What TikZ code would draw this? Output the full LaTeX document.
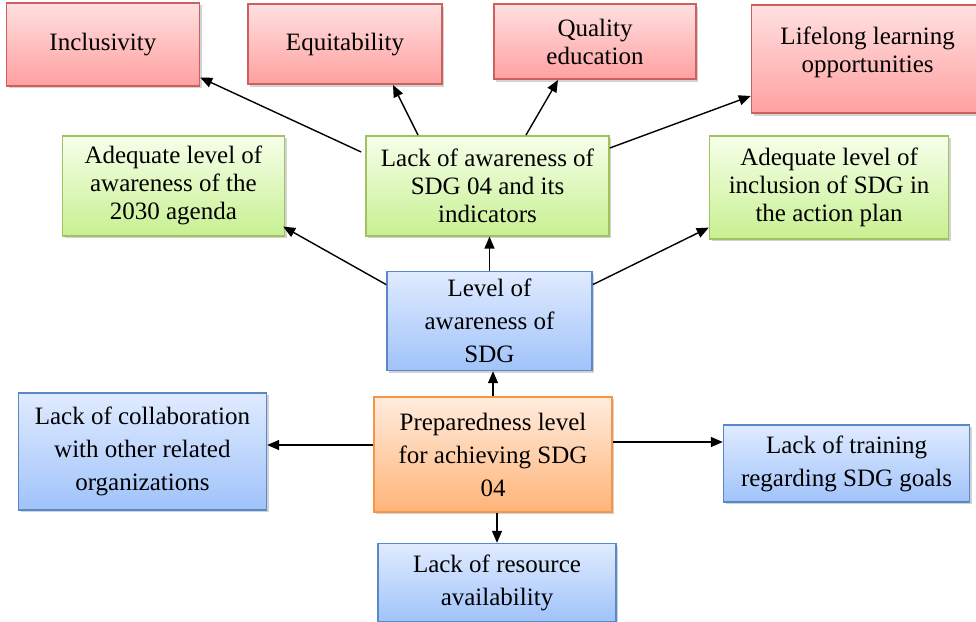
\documentclass[tikz,border=0pt]{standalone}
\usepackage{fontspec}
\setmainfont{LiberationSerif-Regular.ttf}
\usetikzlibrary{shapes,arrows.meta,positioning,shadows}

\definecolor{goalline}{RGB}{205,95,92}
\definecolor{goaltop}{RGB}{255,224,224}
\definecolor{goalbot}{RGB}{255,160,160}
\definecolor{factline}{RGB}{160,195,95}
\definecolor{facttop}{RGB}{246,255,234}
\definecolor{factbot}{RGB}{200,240,145}
\definecolor{lvlline}{RGB}{90,135,200}
\definecolor{lvltop}{RGB}{224,235,255}
\definecolor{lvlbot}{RGB}{160,195,250}
\definecolor{prepline}{RGB}{245,150,70}
\definecolor{preptop}{RGB}{255,236,222}
\definecolor{prepbot}{RGB}{255,180,120}

\newcommand\upperfont{\rmfamily\fontsize{12.5}{14}\selectfont}
\newcommand\lowerfont{\rmfamily\fontsize{12.5}{16.5}\selectfont}

\begin{document}
\begin{tikzpicture}[->,>={Triangle[length=6pt,width=5pt]},line width=0.7pt]
  \tikzstyle{box}=[draw, rectangle, align=center, inner sep=2pt, line width=0.8pt,
                   drop shadow={shadow xshift=1.2pt,shadow yshift=-1.2pt,opacity=0.35}]
  \tikzstyle{goal}=[box, draw=goalline, top color=goaltop, bottom color=goalbot, font=\upperfont]
  \tikzstyle{factor}=[box, draw=factline, top color=facttop, bottom color=factbot, font=\upperfont]
  \tikzstyle{lack}=[box, draw=lvlline, top color=lvltop, bottom color=lvlbot, font=\lowerfont]
  \tikzstyle{core}=[box, draw=prepline, top color=preptop, bottom color=prepbot, font=\lowerfont]

 \useasboundingbox (0,0) rectangle (488pt,-311pt);

 \node[core, minimum width=119pt, minimum height=57.5pt](prep) at (246.5pt,-227.25pt)
      {Preparedness level\\for achieving SDG\\04};

 \node[lack, minimum width=102.5pt, minimum height=49.5pt, above=12.5pt of prep, xshift=-1.75pt](lvl_aw)
      {Level of\\awareness of\\SDG};
 \node[lack, minimum width=119pt, minimum height=39pt, below=15pt of prep, xshift=2pt](lack_res)
      {Lack of resource\\availability};
 \node[lack, minimum width=124pt, minimum height=58.5pt, left=53pt of prep, yshift=1.5pt](lack_collab)
      {Lack of collaboration\\with other related\\organizations};
 \node[lack, minimum width=123pt, minimum height=38.5pt, right=55pt of prep, yshift=-4.5pt](lack_train)
      {Lack of training\\regarding SDG goals};

 \node[factor, minimum width=121.5pt, minimum height=50pt, above=17pt of lvl_aw, xshift=-1pt](aw_sdg)
      {Lack of awareness of\\SDG 04 and its\\indicators};
 \node[factor, minimum width=111pt, minimum height=50pt, left=40pt of aw_sdg](aw_agenda)
      {Adequate level of\\awareness of the\\2030 agenda};
 \node[factor, minimum width=119.5pt, minimum height=51.5pt, right=49.5pt of aw_sdg, yshift=-0.75pt](incl_plan)
      {Adequate level of\\inclusion of SDG in\\the action plan};

 \node[goal, minimum width=97pt, minimum height=40pt, above=25pt of aw_sdg, xshift=-71.25pt](equit)
      {Equitability};
 \node[goal, minimum width=96.5pt, minimum height=41.5pt, left=23.5pt of equit](inclus)
      {Inclusivity};
 \node[goal, minimum width=101pt, minimum height=37.5pt, above=27.5pt of aw_sdg, xshift=53.75pt](quality)
      {Quality\\education};
 \node[goal, minimum width=116pt, minimum height=54pt, right=27pt of quality, yshift=-8.75pt](lifelong)
      {Lifelong learning\\opportunities\\[-4pt]\mbox{}};

 \path (prep.north) edge ([xshift=1.75pt]lvl_aw.south)
       ([yshift=4.75pt]prep.west) edge ([yshift=3.25pt]lack_collab.east)
       ([yshift=6.25pt]prep.east) edge ([yshift=10.75pt]lack_train.west)
       ([xshift=2pt]prep.south) edge (lack_res.north)
       ([yshift=-7pt]lvl_aw.north west) edge ([xshift=-1pt,yshift=5pt]aw_agenda.south east)
       (lvl_aw.north) edge ([xshift=1pt]aw_sdg.south)
       ([yshift=-7pt]lvl_aw.north east) edge ([yshift=6pt]incl_plan.south west)
       ([xshift=-2pt,yshift=-8.5pt]aw_sdg.north west) edge ([yshift=4.5pt]inclus.south east)
       ([xshift=-34.75pt]aw_sdg.north) edge ([xshift=24pt]equit.south)
       ([xshift=19.25pt]aw_sdg.north) edge ([xshift=-18.5pt]quality.south)
       ([yshift=-6.5pt]aw_sdg.north east) edge ([yshift=9pt]lifelong.south west);

\end{tikzpicture}
\end{document}
